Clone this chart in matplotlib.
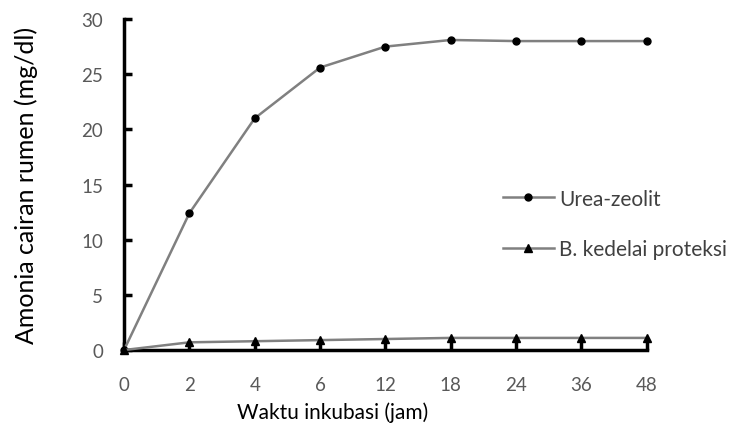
import numpy as np
from matplotlib import pyplot as plt

# data
jam = ["0", "2", "4", "6", "12", "18", "24", "36", "48"]
urea_zeolit = [0, 12.4, 21.0, 25.6, 27.5, 28.1, 28.0, 28.0, 28.0]
kedelai_proteksi = [0, 0.7, 0.8, 0.9, 1.0, 1.1, 1.1, 1.1, 1.1]

plt.rcParams['font.family'] = ['Lato', 'DejaVu Sans']

fig = plt.figure(figsize=(7.4, 4.35), dpi=100)
ax = fig.add_axes([0.1676, 0.193, 0.874 - 0.1676, 0.954 - 0.193])

x = np.arange(len(jam))
ax.plot(x, urea_zeolit, color="#808080", lw=1.8, marker="o", ms=5,
        mfc="black", mec="black", label="Urea-zeolit", clip_on=False, zorder=3)
ax.plot(x, kedelai_proteksi, color="#808080", lw=1.8, marker="^", ms=6,
        mfc="black", mec="black", label="B. kedelai proteksi", clip_on=False, zorder=3)

ax.set_xlim(0, len(jam) - 1)
ax.set_ylim(0, 30)
ax.set_xticks(x)
ax.set_xticklabels(jam)
ax.set_yticks(np.arange(0, 31, 5))

for s in ["top", "right"]:
    ax.spines[s].set_visible(False)
for s in ["left", "bottom"]:
    ax.spines[s].set_linewidth(2.5)
    ax.spines[s].set_color("black")

ax.tick_params(axis="both", direction="in", length=6, width=2.5, color="black",
               labelsize=13.5, labelcolor="#595959")
ax.tick_params(axis="x", pad=19)
ax.tick_params(axis="y", pad=15)

ax.set_xlabel("Waktu inkubasi (jam)", fontsize=15)
ax.xaxis.set_label_coords(0.40, -0.155)
ax.set_ylabel("Amonia cairan rumen (mg/dl)", fontsize=18)
ax.yaxis.set_label_coords(-0.165, 0.5)

fig.legend(loc="upper left", bbox_to_anchor=(484 / 740, 1 - 171 / 435),
           frameon=False, fontsize=15, labelspacing=1.45, handlelength=2.45,
           handletextpad=0.25, labelcolor="#404040")

fig.savefig("out.png", dpi=100)
